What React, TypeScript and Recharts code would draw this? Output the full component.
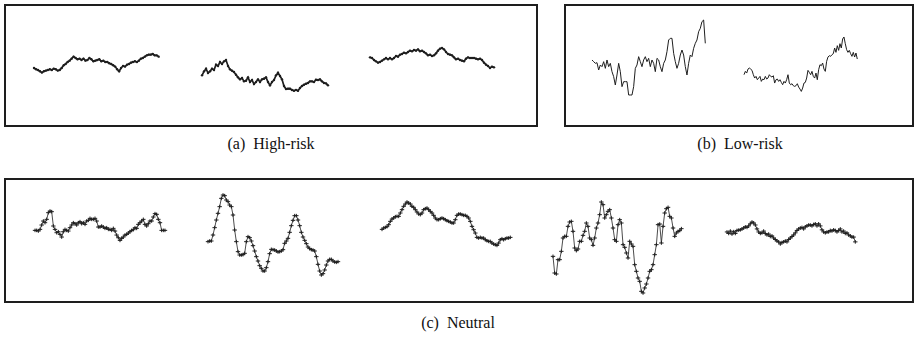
import { LineChart, Line, XAxis, YAxis } from "recharts"

// value readings for each small trace, left to right
const highRisk1 = [232, 228, 226, 222, 218, 222, 224, 226, 228, 226, 230, 228, 224, 226, 232, 240, 244, 250, 254, 260, 266, 262, 258, 260, 256, 260, 254, 256, 262, 258, 252, 254, 256, 258, 252, 254, 250, 250, 246, 244, 240, 236, 228, 222, 232, 238, 236, 242, 244, 248, 250, 252, 250, 254, 260, 262, 266, 270, 272, 272, 274, 270, 270, 266]
const highRisk2 = [208, 220, 228, 215, 220, 228, 224, 240, 236, 248, 242, 250, 254, 236, 226, 222, 218, 210, 202, 196, 200, 190, 192, 202, 188, 194, 182, 188, 196, 188, 196, 198, 202, 188, 178, 188, 194, 208, 216, 206, 196, 176, 167, 168, 168, 164, 162, 164, 162, 170, 176, 180, 183, 185, 190, 190, 188, 195, 194, 196, 190, 185, 184, 178]
const highRisk3 = [172, 170, 164, 160, 156, 158, 162, 166, 170, 166, 170, 166, 170, 176, 174, 180, 182, 186, 184, 188, 192, 190, 194, 192, 196, 190, 192, 188, 184, 178, 180, 176, 178, 184, 192, 198, 200, 196, 188, 182, 180, 178, 172, 166, 168, 164, 162, 160, 168, 172, 170, 170, 170, 168, 166, 168, 164, 156, 150, 146, 140, 144, 142]

const lowRisk1 = [120, 115, 110, 112, 90, 105, 100, 115, 95, 120, 100, 110, 85, 70, 45, 75, 110, 85, 40, 55, 55, 55, 15, 15, 15, 40, 95, 105, 130, 115, 100, 120, 130, 115, 125, 100, 120, 110, 85, 125, 120, 100, 85, 110, 120, 145, 180, 185, 185, 140, 115, 95, 110, 135, 150, 135, 100, 75, 110, 135, 130, 155, 170, 180, 205, 215, 235, 240, 170]
const lowRisk2 = [65, 75, 70, 82, 85, 82, 78, 65, 55, 60, 50, 55, 60, 45, 52, 50, 60, 52, 55, 65, 60, 58, 62, 40, 50, 52, 45, 50, 42, 35, 45, 40, 50, 65, 40, 35, 38, 32, 30, 32, 38, 28, 22, 15, 25, 40, 42, 55, 78, 72, 65, 75, 60, 55, 70, 50, 80, 95, 92, 100, 82, 75, 105, 118, 122, 120, 125, 128, 145, 132, 152, 138, 158, 145, 172, 178, 158, 140, 132, 138, 128, 120, 132, 118, 130, 112]

const neutral1 = [172, 172, 170, 175, 188, 200, 195, 205, 225, 230, 228, 185, 175, 165, 168, 160, 152, 168, 175, 172, 170, 180, 188, 195, 192, 188, 195, 198, 192, 195, 190, 200, 202, 208, 205, 205, 208, 200, 182, 182, 185, 182, 178, 180, 175, 175, 172, 178, 170, 158, 150, 142, 148, 152, 158, 160, 164, 168, 172, 174, 180, 178, 190, 195, 200, 205, 190, 185, 192, 200, 200, 212, 222, 220, 205, 195, 172, 172, 172]
const neutral2 = [140, 142, 142, 160, 182, 205, 225, 245, 270, 280, 278, 265, 260, 250, 245, 220, 175, 140, 110, 100, 100, 101, 105, 140, 155, 152, 142, 128, 112, 95, 82, 68, 60, 52, 52, 62, 80, 104, 117, 116, 115, 112, 109, 110, 112, 116, 135, 142, 150, 168, 188, 204, 218, 218, 205, 188, 168, 154, 144, 134, 124, 119, 116, 115, 112, 95, 72, 52, 40, 44, 55, 70, 82, 87, 87, 82, 79, 78, 80]
const neutral3 = [196, 200, 202, 204, 210, 220, 227, 230, 234, 235, 235, 245, 255, 265, 272, 278, 275, 272, 265, 262, 255, 248, 242, 240, 245, 255, 258, 260, 255, 250, 245, 238, 230, 225, 225, 228, 230, 228, 225, 222, 220, 218, 215, 215, 225, 238, 242, 242, 240, 238, 238, 235, 230, 220, 205, 195, 185, 172, 170, 172, 170, 170, 165, 162, 160, 160, 155, 152, 150, 148, 155, 165, 168, 165, 168, 170, 170, 172]
const neutral4 = [115, 65, 62, 105, 105, 130, 170, 175, 175, 205, 218, 220, 190, 140, 132, 137, 160, 160, 178, 190, 215, 205, 170, 165, 148, 170, 200, 215, 240, 278, 270, 230, 240, 250, 255, 230, 200, 165, 160, 210, 225, 215, 150, 142, 125, 110, 160, 152, 145, 90, 70, 50, 40, 10, 5, 20, 32, 50, 70, 75, 90, 120, 150, 210, 212, 155, 205, 245, 258, 262, 235, 230, 200, 175, 185, 190, 192, 198]
const neutral5 = [185, 180, 188, 178, 186, 180, 190, 191, 192, 195, 198, 202, 200, 205, 212, 218, 215, 208, 195, 185, 180, 182, 188, 180, 175, 178, 170, 172, 165, 160, 155, 152, 145, 150, 152, 155, 152, 160, 165, 170, 175, 182, 190, 195, 198, 200, 195, 202, 205, 208, 208, 205, 210, 212, 205, 212, 205, 192, 185, 182, 185, 185, 190, 188, 192, 190, 185, 190, 195, 185, 188, 180, 182, 175, 172, 168, 168, 152]

const captions = ["(a)", "High-risk", "(b)", "Low-risk", "(c)", "Neutral"]

const INK = "#1e1e1e"
const PAD = 4

type Kind = "beads" | "plain" | "ticks"

const TickDot = (props: any) => {
  const { cx, cy } = props
  if (cx == null || cy == null) return null
  return (
    <path
      d={`M${cx - 2.2},${cy}H${cx + 2.2}M${cx},${cy - 1.8}V${cy + 1.8}`}
      stroke={INK}
      strokeWidth={1}
      fill="none"
    />
  )
}

function Spark({ values, x0, x1, y0, y1, kind }: { values: number[]; x0: number; x1: number; y0: number; y1: number; kind: Kind }) {
  const data = values.map((v, i) => ({ i, v }))
  return (
    <div style={{ position: "absolute", left: x0 - PAD, top: y0 - PAD }}>
      <LineChart width={x1 - x0 + PAD * 2} height={y1 - y0 + PAD * 2} data={data} margin={{ top: PAD, right: PAD, bottom: PAD, left: PAD }}>
        <XAxis dataKey="i" type="number" domain={["dataMin", "dataMax"]} hide />
        <YAxis type="number" domain={["dataMin", "dataMax"]} hide />
        <Line
          dataKey="v"
          type="linear"
          stroke={INK}
          strokeWidth={kind === "beads" ? 1.7 : kind === "plain" ? 1 : 0.8}
          dot={kind === "beads" ? { r: 1.2, fill: INK, stroke: "none" } : kind === "ticks" ? <TickDot /> : false}
          isAnimationActive={false}
        />
      </LineChart>
    </div>
  )
}

const boxStyle = (left: number, top: number, right: number, bottom: number): React.CSSProperties => ({
  position: "absolute",
  left,
  top,
  width: right - left,
  height: bottom - top,
  border: `2px solid ${INK}`,
  boxSizing: "border-box",
})

function Caption({ tag, text, cx, top }: { tag: string; text: string; cx: number; top: number }) {
  return (
    <div
      style={{
        position: "absolute",
        left: cx - 150,
        width: 300,
        top,
        textAlign: "center",
        fontFamily: "'Liberation Serif', 'Times New Roman', serif",
        fontSize: 16,
        lineHeight: "18px",
        color: "#111",
        whiteSpace: "pre",
      }}
    >
      {tag}
      {"  "}
      {text}
    </div>
  )
}

export default function App() {
  return (
    <div style={{ position: "absolute", left: 0, top: 0, width: 919, height: 338, background: "#fff" }}>
      <div style={boxStyle(4, 4, 538, 127)} />
      <div style={boxStyle(564, 4, 914, 127)} />
      <div style={boxStyle(4, 178, 914, 303)} />

      <Spark values={highRisk1} x0={34} x1={158.7} y0={53.7} y1={72.3} kind="beads" />
      <Spark values={highRisk2} x0={202} x1={328} y0={60.3} y1={91} kind="beads" />
      <Spark values={highRisk3} x0={370.3} x1={494.3} y0={48.3} y1={68.3} kind="beads" />

      <Spark values={lowRisk1} x0={591.7} x1={705} y0={20} y1={95} kind="plain" />
      <Spark values={lowRisk2} x0={744} x1={857.3} y0={37.3} y1={91.7} kind="plain" />

      <Spark values={neutral1} x0={35} x1={165} y0={211.3} y1={240.7} kind="ticks" />
      <Spark values={neutral2} x0={208.3} x1={338.3} y0={194.7} y1={274.7} kind="ticks" />
      <Spark values={neutral3} x0={381.7} x1={510} y0={202.3} y1={245.7} kind="ticks" />
      <Spark values={neutral4} x0={553.3} x1={681.7} y0={202.3} y1={293.3} kind="ticks" />
      <Spark values={neutral5} x0={726.7} x1={855} y0={222.3} y1={244.3} kind="ticks" />

      <Caption tag={captions[0]} text={captions[1]} cx={271} top={135} />
      <Caption tag={captions[2]} text={captions[3]} cx={740} top={135} />
      <Caption tag={captions[4]} text={captions[5]} cx={458} top={314} />
    </div>
  )
}
